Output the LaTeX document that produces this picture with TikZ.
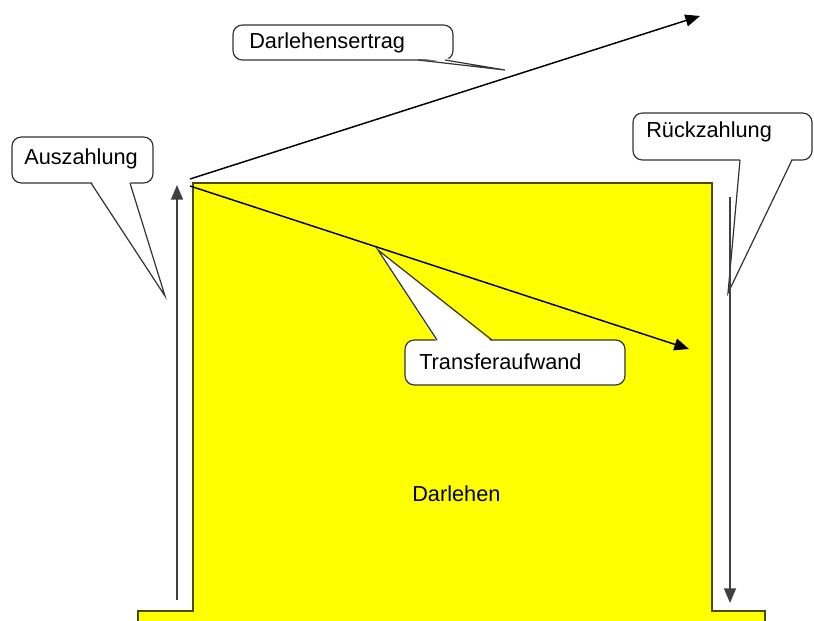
\documentclass[tikz,border=0pt]{standalone}
\usepackage{fontspec}
\setmainfont{Liberation Sans}
\usetikzlibrary{arrows.meta}
\definecolor{yel}{RGB}{255,255,0}
\tikzset{
  lbl/.style={font=\fontsize{16.3}{19}\selectfont, inner sep=0pt, anchor=west},
  bubble/.style={draw=black!80, line width=0.9pt, fill=white, rounded corners=7pt},
  wedge/.style={fill=white},
  wedgeline/.style={draw=black!80, line width=0.9pt},
  arr/.style={draw=black, line width=1.1pt, -{Triangle[length=11pt,width=9pt]}},
  body/.style={fill=yel, draw=black!70!yel, line width=0.8pt}
}
\begin{document}
\begin{tikzpicture}[x=0.75pt,y=-0.75pt]
\useasboundingbox (0,0) rectangle (814,621);
\clip (0,0) rectangle (814,621);
% yellow body
\draw[body] (193,183) -- (712,183) -- (712,611) -- (765,611) -- (765,630) -- (138,630) -- (138,611) -- (193,611) -- cycle;
\node[lbl] (darlehen) at (412,494) {Darlehen};

% Auszahlung callout
\path[bubble] (12,137) rectangle (153,183);
\fill[wedge] (91,181) -- (165,296) -- (130,181) -- cycle;
\draw[wedgeline] (91,183) -- (165,296) -- (130,183);
\node[lbl] (ausz) at (24,159) {Auszahlung};

% Darlehensertrag callout
\path[bubble] (233,25) rectangle (453,60);
\fill[wedge] (418,58) -- (505,70) -- (445,58) -- cycle;
\draw[wedgeline] (418,60) -- (505,70) -- (445,60);
\node[lbl] (ertrag) at (249,43) {Darlehensertrag};

% Rueckzahlung callout
\path[bubble] (633,113) rectangle (812,160);
\fill[wedge] (740,158) -- (728,293) -- (792,158) -- cycle;
\draw[wedgeline] (740,160) -- (728,293) -- (792,160);
\node[lbl] (rueck) at (646,132) {Rückzahlung};

% Transferaufwand callout
\path[bubble] (405,340) rectangle (625,385);
\fill[wedge] (437,342) -- (378,250) -- (492,342) -- cycle;
\draw[wedgeline] (437,340) -- (378,250) -- (492,340);
\node[lbl] (transfer) at (419,362) {Transferaufwand};

% arrows
\coordinate (upS) at (177,600);
\coordinate (upE) at (177,185);
\coordinate (dnS) at (730,197);
\coordinate (dnE) at (730,603);
\coordinate (o1) at (190,179);
\coordinate (e1) at (700,16);
\coordinate (o2) at (190,186);
\coordinate (e2) at (689,349);
\draw[arr, draw=black!75] (upS) -- (upE);
\draw[arr, draw=black!75] (dnS) -- (dnE);
\draw[arr] (o1) -- (e1);
\draw[arr] (o2) -- (e2);
\end{tikzpicture}
\end{document}
